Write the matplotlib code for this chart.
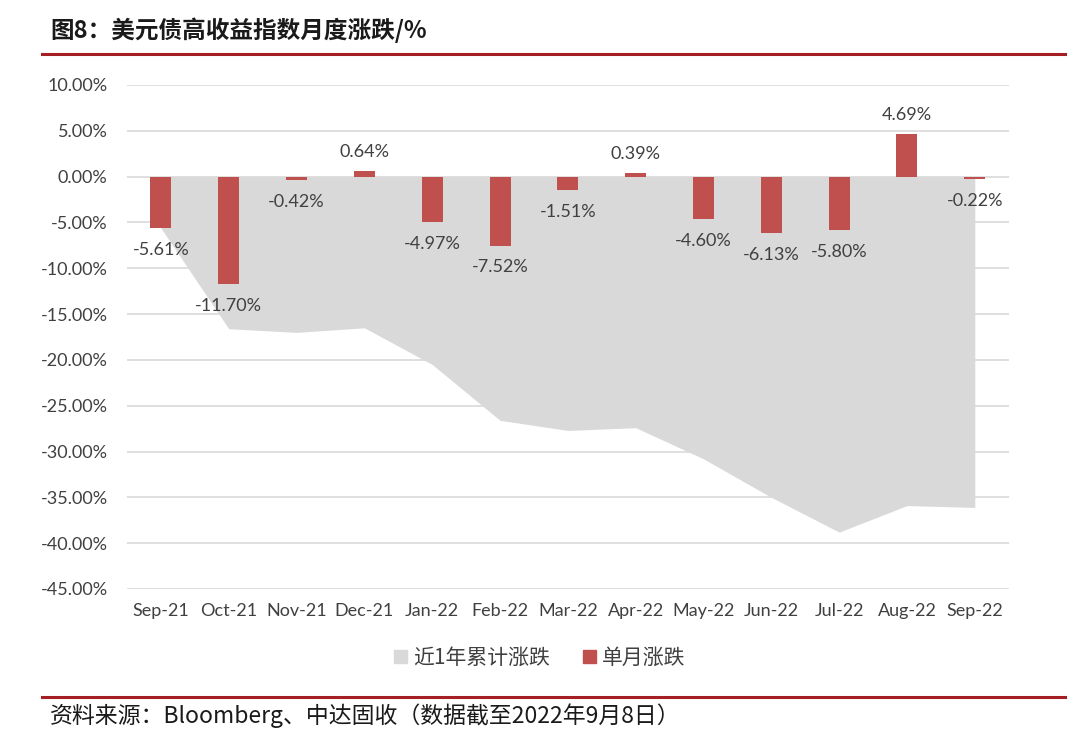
import matplotlib.pyplot as plt
import numpy as np
from matplotlib.patches import Patch

plt.rcParams['font.family'] = ['Lato', 'Noto Sans CJK SC', 'DejaVu Sans']

months = ['Sep-21', 'Oct-21', 'Nov-21', 'Dec-21', 'Jan-22', 'Feb-22', 'Mar-22',
          'Apr-22', 'May-22', 'Jun-22', 'Jul-22', 'Aug-22', 'Sep-22']
monthly = [-5.61, -11.70, -0.42, 0.64, -4.97, -7.52, -1.51, 0.39, -4.60, -6.13, -5.80, 4.69, -0.22]
cumulative = [-5.61, -16.6, -17.0, -16.5, -20.5, -26.6, -27.7, -27.4, -30.8, -35.0, -38.8, -35.9, -36.1]
yticks = [10, 5, 0, -5, -10, -15, -20, -25, -30, -35, -40, -45]

red = '#C0504D'
grey = '#D9D9D9'
txt = '#404040'

fig = plt.figure(figsize=(10.8, 7.3), dpi=100)
ax = fig.add_axes([0.1176, 0.1932, 0.8164, 0.6904])

x = np.arange(len(months))
ax.fill_between(x, cumulative, 0, color=grey, linewidth=0, zorder=1)
ax.bar(x, monthly, width=0.31, color=red, zorder=3)

for xi, v in zip(x, monthly):
    if v < 0:
        ax.annotate(f'{v:.2f}%', (xi, v), xytext=(0, -10), textcoords='offset points',
                    ha='center', va='top', fontsize=13, color=txt, zorder=4)
    else:
        ax.annotate(f'{v:.2f}%', (xi, v), xytext=(0, 8), textcoords='offset points',
                    ha='center', va='bottom', fontsize=13, color=txt, zorder=4)

ax.set_xlim(-0.5, len(months) - 0.5)
ax.set_ylim(-45, 10)
ax.set_yticks(yticks)
ax.set_yticklabels([f'{t:.2f}%' for t in yticks])
ax.set_xticks(x)
ax.set_xticklabels(months)
ax.tick_params(axis='both', length=0, labelsize=13, labelcolor=txt)
ax.tick_params(axis='x', pad=10)
ax.tick_params(axis='y', pad=14)
ax.grid(axis='y', color=grey, linewidth=1.2, zorder=0)
ax.set_axisbelow(True)
for s in ax.spines.values():
    s.set_visible(False)

handles = [Patch(color=grey, label='近1年累计涨跌'), Patch(color=red, label='单月涨跌')]
fig.legend(handles=handles, loc='center', bbox_to_anchor=(0.5, 1 - 658 / 730), ncol=2,
           frameon=False, handlelength=0.6, handleheight=0.6,
           handletextpad=0.3, columnspacing=1.6, labelcolor=txt,
           prop={'family': ['Noto Sans CJK SC'], 'size': 15})

fig.text(50 / 1080, 1 - 30 / 730, '图8：美元债高收益指数月度涨跌/%', fontsize=17,
         fontweight='bold', va='center', ha='left', color='#1a1a1a',
         family=['Noto Sans CJK SC', 'DejaVu Sans'])
fig.add_artist(plt.Line2D([42 / 1080, 1065 / 1080], [1 - 54 / 730] * 2,
                          color='#A31F24', linewidth=2.2))
fig.add_artist(plt.Line2D([42 / 1080, 1065 / 1080], [1 - 697 / 730] * 2,
                          color='#A31F24', linewidth=2.2))
fig.text(50 / 1080, 1 - 716 / 730, '资料来源：Bloomberg、中达固收（数据截至2022年9月8日）',
         fontsize=16.5, va='center', ha='left', color='#1a1a1a',
         family=['Noto Sans CJK SC', 'DejaVu Sans'])

fig.savefig('out.png', dpi=100)
